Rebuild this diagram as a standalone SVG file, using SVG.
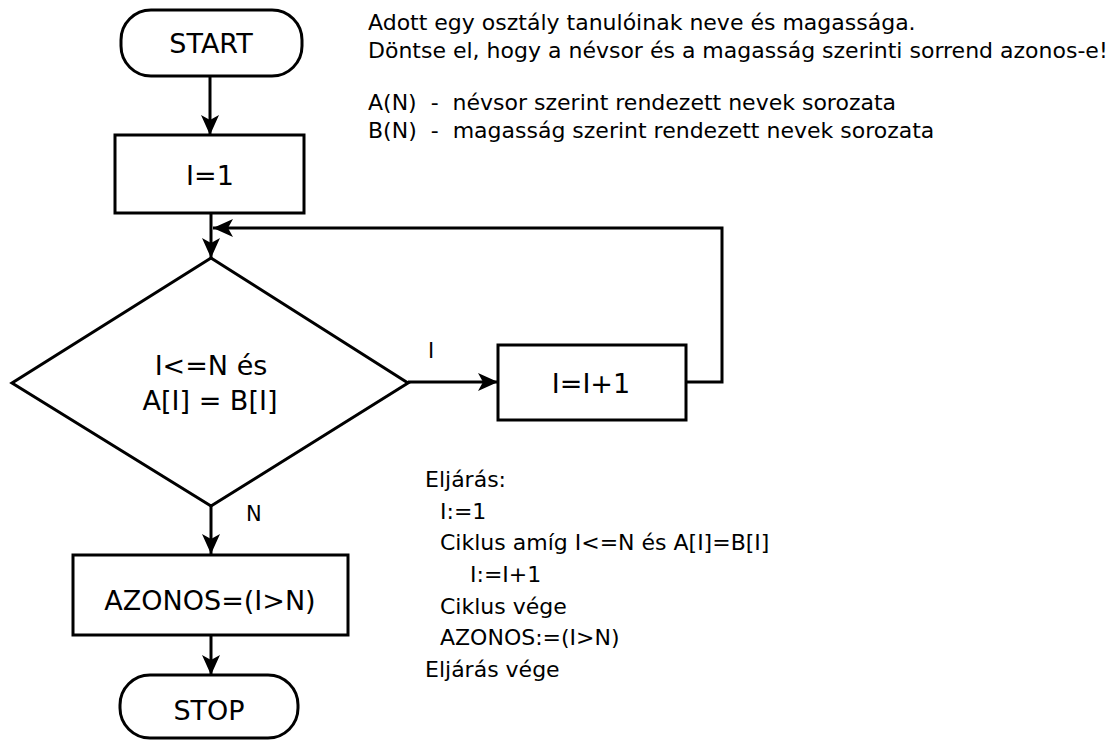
<svg xmlns="http://www.w3.org/2000/svg" width="1117" height="742" viewBox="0 0 1117 742">
<style>
.shape{fill:#fff;stroke:#000;stroke-width:3}
.conn{fill:none;stroke:#000;stroke-width:3}
.t{font-family:"DejaVu Sans",Verdana,sans-serif;fill:#000}
.big{font-size:27px;text-anchor:middle}
.lbl{font-size:21px}
.note{font-size:22px}
</style>
<defs>
<marker id="arr" viewBox="0 0 20 18" refX="20" refY="9" markerWidth="20" markerHeight="18" markerUnits="userSpaceOnUse" orient="auto">
<path d="M0,0 L20,9 L0,18 L5,9 z" fill="#000"/>
</marker>
</defs>
<rect width="1117" height="742" fill="#fff"/>
<g id="connectors">
<line class="conn" x1="210" y1="76" x2="210" y2="135" marker-end="url(#arr)"/>
<line class="conn" x1="211" y1="213" x2="211" y2="258" marker-end="url(#arr)"/>
<line class="conn" x1="408" y1="382" x2="498" y2="382" marker-end="url(#arr)"/>
<polyline class="conn" points="686,382 722,382 722,228 213,228" marker-end="url(#arr)"/>
<line class="conn" x1="211" y1="506" x2="211" y2="554" marker-end="url(#arr)"/>
<line class="conn" x1="211" y1="635" x2="211" y2="675" marker-end="url(#arr)"/>
<text class="t lbl" x="428" y="358">I</text>
<text class="t lbl" x="246" y="521">N</text>
</g>
<g id="start">
<rect class="shape" x="121" y="10" width="181" height="66" rx="30" ry="30"/>
<text class="t big" x="211" y="53">START</text>
</g>
<g id="init">
<rect class="shape" x="115" y="135" width="189" height="78"/>
<text class="t big" x="210" y="185">I=1</text>
</g>
<g id="decision">
<polygon class="shape" points="211,258 408,383 211,506 12,383"/>
<text class="t big" x="211" y="375">I&lt;=N és</text>
<text class="t big" x="210" y="410">A[I] = B[I]</text>
</g>
<g id="increment">
<rect class="shape" x="498" y="345" width="188" height="75"/>
<text class="t big" x="591" y="393">I=I+1</text>
</g>
<g id="result">
<rect class="shape" x="73" y="555" width="275" height="80"/>
<text class="t big" x="210" y="610">AZONOS=(I&gt;N)</text>
</g>
<g id="stop">
<rect class="shape" x="120" y="675" width="178" height="63" rx="30" ry="30"/>
<text class="t big" x="209" y="720">STOP</text>
</g>
<g id="description">
<text class="t note" x="368" y="30">Adott egy osztály tanulóinak neve és magassága.</text>
<text class="t note" x="368" y="58">Döntse el, hogy a névsor és a magasság szerinti sorrend azonos-e!</text>
<text class="t note" x="368" y="110" xml:space="preserve">A(N)  -  névsor szerint rendezett nevek sorozata</text>
<text class="t note" x="368" y="138" xml:space="preserve">B(N)  -  magasság szerint rendezett nevek sorozata</text>
</g>
<g id="procedure">
<text class="t note" x="425" y="487">Eljárás:</text>
<text class="t note" x="440" y="519">I:=1</text>
<text class="t note" x="440" y="550">Ciklus amíg I&lt;=N és A[I]=B[I]</text>
<text class="t note" x="470" y="582">I:=I+1</text>
<text class="t note" x="440" y="614">Ciklus vége</text>
<text class="t note" x="440" y="645">AZONOS:=(I&gt;N)</text>
<text class="t note" x="425" y="677">Eljárás vége</text>
</g>
</svg>
